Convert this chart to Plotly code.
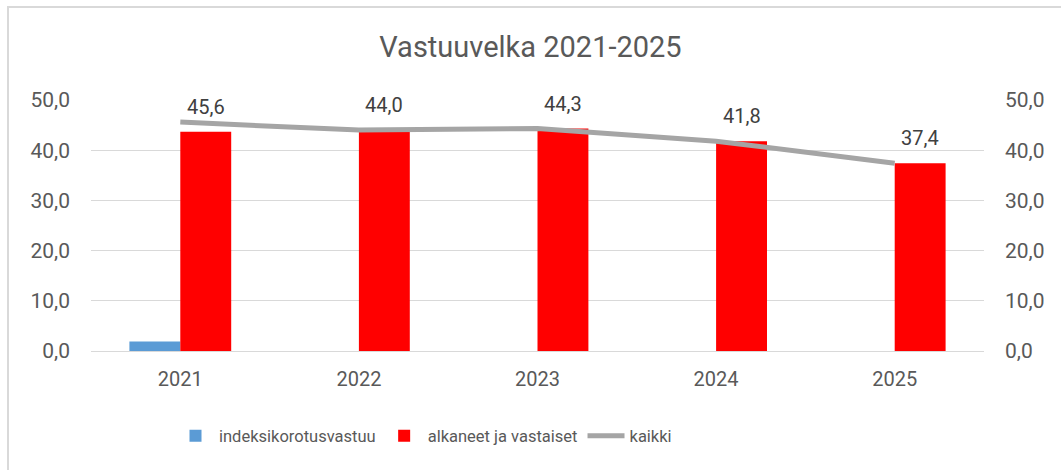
import plotly.graph_objects as go

years = ["2021", "2022", "2023", "2024", "2025"]
indeksi = [1.9, 0, 0, 0, 0]
alkaneet = [43.7, 44.0, 44.3, 41.8, 37.4]
kaikki = [45.6, 44.0, 44.3, 41.8, 37.4]

FONT = "Roboto"
TXT = "#595959"
L, T, PW, PH = 91, 100, 893, 251
BARGAP = 0.43

fig = go.Figure()
fig.add_trace(go.Bar(x=years, y=indeksi, name="indeksikorotusvastuu",
                     marker=dict(color="#5b9bd5", line=dict(width=0))))
fig.add_trace(go.Bar(x=years, y=alkaneet, name="alkaneet ja vastaiset",
                     marker=dict(color="#ff0000", line=dict(width=0))))
fig.add_trace(go.Scatter(x=years, y=kaikki, name="kaikki", mode="lines",
                         yaxis="y2", line=dict(color="#a5a5a5", width=5)))

# data labels (total value) centred over the red bars
half_bar = PW / len(years) * (1 - BARGAP) / 4
for i, (top, tot) in enumerate(zip(alkaneet, kaikki)):
    fig.add_annotation(x=i, y=top, xref="x", yref="y", showarrow=False,
                       text=f"{tot:.1f}".replace(".", ","),
                       xshift=half_bar, yshift=25, yanchor="middle",
                       font=dict(family=FONT, size=20, color="#404040"))

fig.update_layout(
    width=1061, height=470,
    margin=dict(l=L, r=1061 - L - PW, t=T, b=470 - T - PH),
    paper_bgcolor="white", plot_bgcolor="white",
    separators=", ",
    barmode="group", bargap=BARGAP, bargroupgap=0,
    font=dict(family=FONT, color=TXT),
    title=dict(text="Vastuuvelka 2021-2025", x=0.5, xanchor="center",
               y=1 - 47 / 470, yanchor="middle",
               font=dict(family=FONT, size=29, color=TXT)),
    xaxis=dict(type="category", range=[-0.5, len(years) - 0.5],
               showgrid=False, showline=True,
               linecolor="#d9d9d9", linewidth=1,
               tickfont=dict(size=20, color=TXT), ticks="", automargin=False,
               ticklabelstandoff=10),
    yaxis=dict(range=[0, 50], dtick=10, tickformat=".1f", showgrid=True,
               gridcolor="#d9d9d9", gridwidth=1, zeroline=False,
               tickfont=dict(size=21, color=TXT), ticks="", automargin=False,
               ticklabelstandoff=20),
    yaxis2=dict(range=[0, 50], dtick=10, tickformat=".1f", overlaying="y",
                side="right", showgrid=False, zeroline=False, automargin=False,
                tickfont=dict(size=21, color=TXT), ticklabelstandoff=20),
    legend=dict(orientation="h", x=(172 - L) / PW, xanchor="left",
                y=(T + PH - 436) / PH, yanchor="middle",
                font=dict(family=FONT, size=16.5, color=TXT),
                traceorder="normal", itemwidth=37),
    showlegend=True,
)

fig.add_shape(type="rect", xref="paper", yref="paper",
              x0=(8 - L) / PW, x1=1.3, y0=-1.0, y1=(T + PH - 7) / PH,
              line=dict(color="#d9d9d9", width=2), fillcolor="rgba(0,0,0,0)",
              layer="below")

fig.write_html("out.html", config={"displayModeBar": False},
               post_script="document.body.style.margin='0';")
